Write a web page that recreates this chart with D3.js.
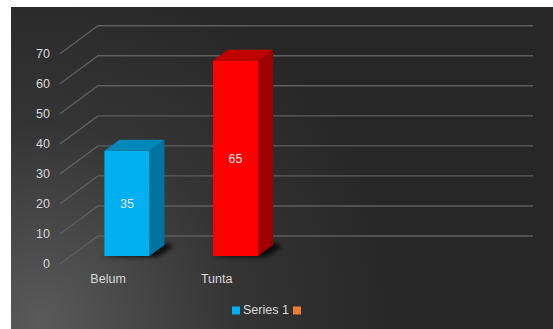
<!DOCTYPE html>
<html><head><meta charset="utf-8">
<script src="https://cdn.jsdelivr.net/npm/d3@7/dist/d3.min.js"></script>
<style>html,body{margin:0;padding:0;background:#fff;}svg{display:block;}</style>
</head><body>
<svg id="chart" width="553" height="329"></svg>
<script>
const categories = ["Belum", "Tunta"];
const seriesName = "Series 1";
const values = [35, 65];
const barColors = ["#00b0f0", "#ff0000"];
const topColors = ["#0088bb", "#c00000"];
const sideColors = ["#0074a0", "#a00000"];
const tickValues = [0, 10, 20, 30, 40, 50, 60, 70];
const slotCount = 4;

const svg = d3.select("#chart");
const W = 553, H = 329;
const defs = svg.append("defs");
const rg = defs.append("radialGradient").attr("id", "bg")
  .attr("gradientUnits", "userSpaceOnUse").attr("cx", 40).attr("cy", 320).attr("r", 360);
rg.append("stop").attr("offset", 0).attr("stop-color", "#5a5a5a");
rg.append("stop").attr("offset", 0.55).attr("stop-color", "#343434");
rg.append("stop").attr("offset", 1).attr("stop-color", "#272727");
defs.append("filter").attr("id", "blur").attr("x", "-50%").attr("y", "-50%").attr("width", "200%").attr("height", "200%")
  .append("feGaussianBlur").attr("stdDeviation", 2.2);

svg.append("rect").attr("x", 11).attr("y", 7).attr("width", W - 11).attr("height", H - 7).attr("fill", "url(#bg)");

// geometry: back plane and oblique depth
const backLeft = 98, backRight = 533;
const depthDX = -38, depthDY = 28;
const y = d3.scaleLinear().domain([0, 70]).range([236, 25.7]);
const x = d3.scaleBand().domain(d3.range(slotCount)).range([backLeft + 1.5, backRight + 1.5]).paddingInner(0.585).paddingOuter(0.295);
const proj = (px, py, z) => [px + depthDX * z, py + depthDY * z];

const font = "'Liberation Sans', Arial, sans-serif";

// gridlines
const grid = svg.append("g");
tickValues.forEach(t => {
  const yb = y(t);
  const f = proj(backLeft, yb, 1);
  grid.append("path")
    .attr("d", `M${f[0]},${f[1]}L${backLeft},${yb}L${backRight},${yb}`)
    .attr("fill", "none").attr("stroke", "#5e5e5e").attr("stroke-width", 1.4);
});

// y axis labels
svg.append("g").selectAll("text").data(tickValues).join("text")
  .attr("x", 50).attr("y", d => proj(backLeft, y(d), 1)[1] + 1)
  .attr("text-anchor", "end").attr("dominant-baseline", "middle")
  .attr("font-family", font).attr("font-size", 12.5).attr("fill", "#d9d9d9")
  .text(d => d);

// bars
const zFront = 0.714, zBack = 0.32;
const bars = svg.append("g");
values.forEach((v, i) => {
  const x0 = x(i), x1 = x(i) + x.bandwidth();
  const yTop = y(v), yBase = y(0);
  const fBL = proj(x0, yBase, zFront), fBR = proj(x1, yBase, zFront);
  const fTL = proj(x0, yTop, zFront), fTR = proj(x1, yTop, zFront);
  const bBR = proj(x1, yBase, zBack), bTL = proj(x0, yTop, zBack), bTR = proj(x1, yTop, zBack);
  // shadow
  bars.append("path")
    .attr("d", `M${fBL[0] - 2},${fBL[1] + 1}L${fBR[0] + 8},${fBR[1] + 1}L${bBR[0] + 10},${bBR[1] + 1}L${bBR[0]},${bBR[1] - 2}Z`)
    .attr("fill", "#000").attr("opacity", 0.75).attr("filter", "url(#blur)");
  // side
  bars.append("path").attr("d", `M${fTR}L${bTR}L${bBR}L${fBR}Z`).attr("fill", sideColors[i]);
  // top
  bars.append("path").attr("d", `M${fTL}L${bTL}L${bTR}L${fTR}Z`).attr("fill", topColors[i]);
  // front
  bars.append("rect").attr("x", fTL[0]).attr("y", fTL[1]).attr("width", fTR[0] - fTL[0]).attr("height", fBL[1] - fTL[1])
    .attr("fill", barColors[i]);
  // data label
  bars.append("text").attr("x", (fTL[0] + fTR[0]) / 2).attr("y", (fTL[1] + fBL[1]) / 2 + 1)
    .attr("text-anchor", "middle").attr("dominant-baseline", "middle")
    .attr("font-family", font).attr("font-size", 12.5).attr("fill", "#e6e6e6").text(v);
});

// category labels
svg.append("g").selectAll("text").data(categories).join("text")
  .attr("x", (d, i) => x(i) + x.bandwidth() / 2 + depthDX - 8)
  .attr("y", 280).attr("text-anchor", "middle").attr("dominant-baseline", "middle")
  .attr("font-family", font).attr("font-size", 12.5).attr("fill", "#d9d9d9")
  .text(d => d);

// legend
const lg = svg.append("g");
lg.append("rect").attr("x", 232).attr("y", 306.5).attr("width", 8).attr("height", 8).attr("fill", barColors[0]);
lg.append("text").attr("x", 243).attr("y", 311).attr("dominant-baseline", "middle")
  .attr("font-family", font).attr("font-size", 12.5).attr("fill", "#d9d9d9").text(seriesName);
lg.append("rect").attr("x", 293).attr("y", 306.5).attr("width", 8).attr("height", 8).attr("fill", "#ed7d31");
</script>
</body></html>
